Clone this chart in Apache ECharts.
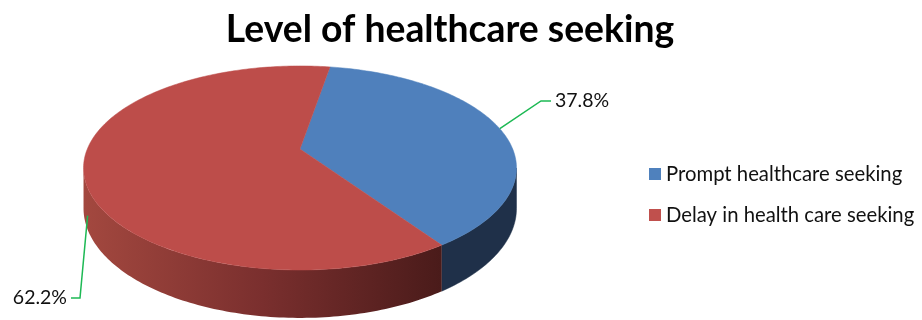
<!DOCTYPE html>
<html>
<head>
<meta charset="utf-8">
<script src="https://cdn.jsdelivr.net/npm/echarts@6/dist/echarts.min.js"></script>
<style>
html,body{margin:0;padding:0;background:#fff;}
#chart{width:922px;height:320px;}
</style>
</head>
<body>
<div id="chart"></div>
<script>
// ---- data ----
const categories = ['Prompt healthcare seeking', 'Delay in health care seeking'];
const values = [37.8, 62.2];
const labelTexts = ['37.8%', '62.2%'];

// ---- style / geometry (not data) ----
const topColors = ['#4f80bc', '#bd4d4a'];
const legendColors = ['#4f81bd', '#c0504d'];
const GEO = { cx: 300, cy: 149, A: 212.7, B: 98.5, k: 0.186, H: 39, startDeg: 9.6 };
const LABEL_LAYOUT = [
  { drop: 0, dx: 0, elbow: [541, 101], end: [551, 101], text: [555, 101], align: 'left' },
  { drop: 1.1, dx: 4, elbow: [80, 298], end: [71, 298], text: [67, 298], align: 'right' }
];

function proj(deg, drop) {
  const t = deg * Math.PI / 180;
  const u = Math.sin(t), v = -Math.cos(t);
  const w = 1 - GEO.k * v;
  return [GEO.cx + GEO.A * u / w, GEO.cy + GEO.B * v / w + (drop || 0) / w];
}
function arc(a0, a1, drop) {
  const pts = [];
  const n = Math.max(2, Math.ceil(Math.abs(a1 - a0)));
  for (let i = 0; i <= n; i++) pts.push(proj(a0 + (a1 - a0) * i / n, drop));
  return pts;
}

const total = values.reduce((s, v) => s + v, 0);
const visA = Math.acos(-GEO.k) * 180 / Math.PI;
const visB = 360 - visA;

function makeRender(idx) {
  return function (params, api) {
    const val = api.value(0);
    let before = 0;
    for (let i = 0; i < idx; i++) before += values[i];
    const a0 = GEO.startDeg + before / total * 360;
    const a1 = a0 + val / total * 360;
    const children = [];
    const s0 = Math.max(a0, visA), s1 = Math.min(a1, visB);
    if (s1 > s0) {
      const pts = arc(s0, s1, 0).concat(arc(s1, s0, GEO.H));
      let fill, stroke = null;
      if (idx === 0) {
        fill = '#1f3049'; stroke = '#1f3049';
      } else {
        fill = new echarts.graphic.LinearGradient(0, 0, 1, 0, [
          { offset: 0, color: '#a3483f' },
          { offset: 0.5, color: '#7a2f2e' },
          { offset: 1, color: '#4a1b1a' }
        ]);
      }
      children.push({ type: 'polygon', shape: { points: pts }, style: { fill: fill, stroke: stroke, lineWidth: 0.5 } });
    }
    const topPts = [[GEO.cx, GEO.cy]].concat(arc(a0, a1, 0));
    children.push({ type: 'polygon', shape: { points: topPts }, style: { fill: topColors[idx], stroke: topColors[idx], lineWidth: 0.5 } });
    const L = LABEL_LAYOUT[idx];
    const mid = (a0 + a1) / 2;
    const anc = proj(mid, L.drop * GEO.H);
    anc[0] += L.dx;
    children.push({ type: 'polyline', shape: { points: [anc, L.elbow, L.end] }, style: { stroke: '#1db954', lineWidth: 1.5, fill: null } });
    children.push({ type: 'text', x: L.text[0], y: L.text[1], style: { text: labelTexts[idx], fill: '#111', font: '19.5px Lato', align: L.align, verticalAlign: 'middle' } });
    return { type: 'group', children: children };
  };
}

const chart = echarts.init(document.getElementById('chart'), null, { renderer: 'canvas' });
chart.setOption({
  animation: false,
  title: {
    text: 'Level of healthcare seeking',
    left: 445, top: 6, textAlign: 'center',
    textStyle: { fontFamily: 'Lato', fontWeight: 'bold', fontSize: 37.3, color: '#000' }
  },
  legend: {
    orient: 'vertical', left: 644, top: 158,
    icon: 'rect', itemWidth: 12, itemHeight: 12, itemGap: 19,
    textStyle: { fontFamily: 'Lato', fontSize: 20.3, color: '#111', lineHeight: 22 },
    data: categories
  },
  series: categories.map((name, i) => ({
    type: 'custom',
    name: name,
    coordinateSystem: 'none',
    itemStyle: { color: legendColors[i] },
    data: [[values[i]]],
    renderItem: makeRender(i)
  }))
});
</script>
</body>
</html>
